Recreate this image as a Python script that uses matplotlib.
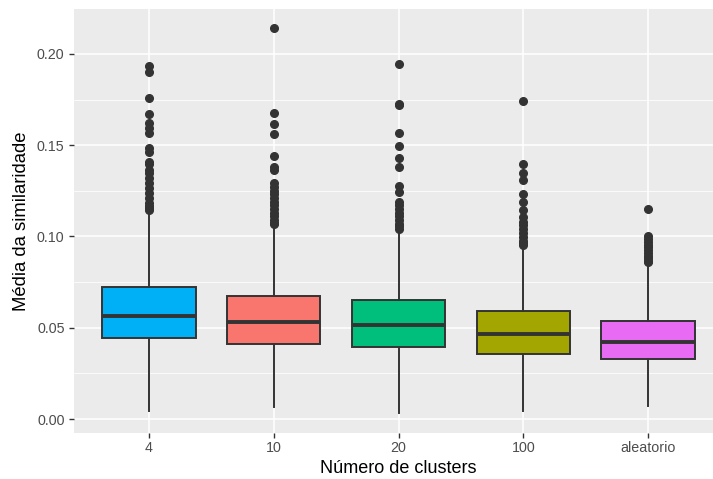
import matplotlib
matplotlib.use("Agg")
import matplotlib.pyplot as plt
from matplotlib.ticker import MultipleLocator

plt.rcParams['font.family'] = ['Liberation Sans', 'DejaVu Sans']

categories = ["4", "10", "20", "100", "aleatorio"]
colors = ["#00B0F6", "#F8766D", "#00BF7D", "#A3A500", "#E76BF3"]
q1 = [0.0445, 0.0412, 0.0396, 0.0358, 0.0330]
median = [0.0566, 0.0533, 0.0517, 0.0467, 0.0424]
q3 = [0.0724, 0.0675, 0.0654, 0.0593, 0.0539]
whislo = [0.0046, 0.0067, 0.0034, 0.0046, 0.0073]
whishi = [0.1137, 0.1060, 0.1027, 0.0945, 0.0845]
fliers = [
    [0.1934, 0.1903, 0.1761, 0.1670, 0.1621, 0.1593, 0.1566, 0.1484, 0.1465,
     0.1410, 0.1398, 0.1364, 0.1347, 0.1319, 0.1292, 0.1265, 0.1237, 0.1210,
     0.1183, 0.1165, 0.1155, 0.1145],
    [0.2141, 0.1675, 0.1618, 0.1560, 0.1443, 0.1383, 0.1365, 0.1292, 0.1270,
     0.1250, 0.1230, 0.1210, 0.1190, 0.1170, 0.1150, 0.1130, 0.1110, 0.1090,
     0.1075, 0.1068],
    [0.1944, 0.1726, 0.1721, 0.1566, 0.1493, 0.1431, 0.1383, 0.1279, 0.1243,
     0.1191, 0.1170, 0.1150, 0.1130, 0.1110, 0.1090, 0.1070, 0.1055, 0.1042],
    [0.1744, 0.1396, 0.1350, 0.1309, 0.1230, 0.1191, 0.1146, 0.1109, 0.1080,
     0.1064, 0.1040, 0.1018, 0.0995, 0.0975, 0.0964, 0.0955],
    [0.1150, 0.1000, 0.0985, 0.0970, 0.0955, 0.0940, 0.0925, 0.0910, 0.0895,
     0.0880, 0.0868, 0.0860],
]
y_ticks = [0.00, 0.05, 0.10, 0.15, 0.20]

fig = plt.figure(figsize=(7.13, 4.79), dpi=100)
ax = fig.add_axes([74/713, 46.3/479, 649/713, 423.3/479])
ax.set_facecolor("#EBEBEB")

stats = []
for i, c in enumerate(categories):
    stats.append(dict(label=c, q1=q1[i], med=median[i], q3=q3[i],
                      whislo=whislo[i], whishi=whishi[i], fliers=fliers[i]))

positions = list(range(1, len(categories) + 1))
bp = ax.bxp(stats, positions=positions, widths=0.75, patch_artist=True,
            showcaps=False, zorder=3,
            boxprops=dict(edgecolor="#333333", linewidth=1.4),
            whiskerprops=dict(color="#333333", linewidth=1.4),
            medianprops=dict(color="#333333", linewidth=2.8, solid_capstyle="butt"),
            flierprops=dict(marker="o", markerfacecolor="#333333",
                            markeredgecolor="#333333", markersize=5.5))
for patch, col in zip(bp["boxes"], colors):
    patch.set_facecolor(col)

ax.set_xlim(0.4, 5.6)
ax.set_ylim(-0.0075, 0.2244)
ax.set_xticks(positions)
ax.set_xticklabels(categories)
ax.set_yticks(y_ticks)
ax.set_yticklabels([f"{v:.2f}" for v in y_ticks])
ax.yaxis.set_minor_locator(MultipleLocator(0.025))

ax.grid(True, which="major", color="white", linewidth=1.1, zorder=0)
ax.grid(True, which="minor", axis="y", color="white", linewidth=0.55, zorder=0)
ax.set_axisbelow(True)
for s in ax.spines.values():
    s.set_visible(False)

ax.tick_params(axis="both", which="major", length=3.8, width=1.0, color="#333333",
               labelsize=10.3, labelcolor="#4D4D4D")
ax.tick_params(axis="x", which="major", pad=2.5)
ax.tick_params(axis="y", which="major", pad=3)
ax.tick_params(axis="both", which="minor", length=0)

ax.set_xlabel("Número de clusters", fontsize=13, color="black", labelpad=3)
ax.set_ylabel("Média da similaridade", fontsize=13.3, color="black", labelpad=5)

fig.savefig("out.png", dpi=100)
